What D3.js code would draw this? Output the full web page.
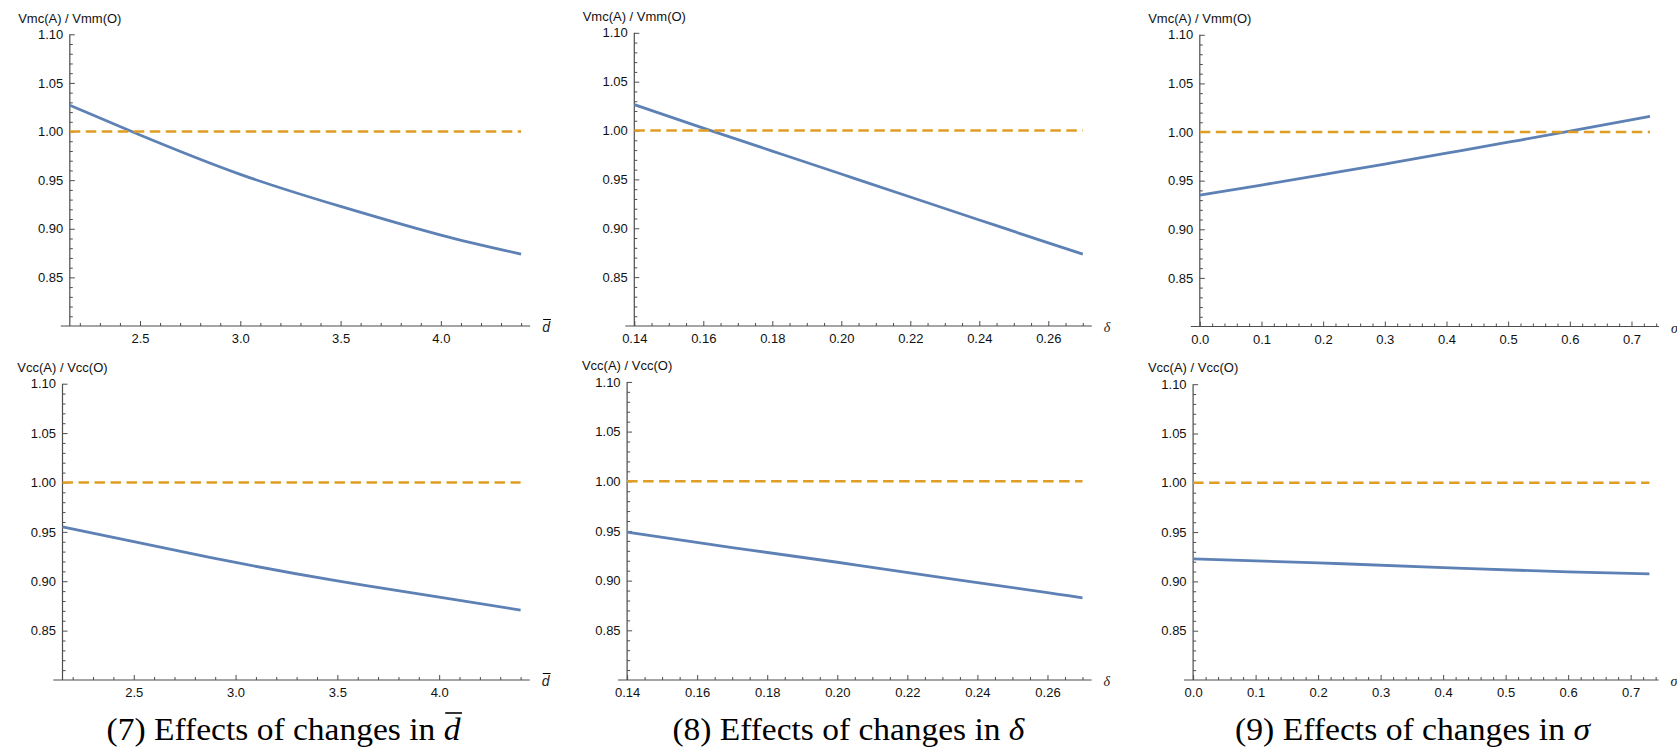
<!DOCTYPE html>
<html>
<head>
<meta charset="utf-8">
<script src="https://cdn.jsdelivr.net/npm/d3@7"></script>
<style>
  html, body { margin: 0; padding: 0; background: #fff; }
  svg { display: block; }
</style>
</head>
<body>
<div id="chart"></div>
<script>
const dbarValues = [2.15, 2.5, 3.0, 3.5, 4.0, 4.4];
const dbarVmcRatio = [1.027, 0.9965, 0.956, 0.923, 0.8935, 0.874];
const dbarVccRatio = [0.955, 0.940, 0.919, 0.9003, 0.8838, 0.8708];

const deltaValues = [0.14, 0.16, 0.18, 0.20, 0.22, 0.24, 0.26, 0.27];
const deltaVmcRatio = [1.0265, 1.0025, 0.979, 0.9555, 0.932, 0.9085, 0.885, 0.8735];
const deltaCcValues = [0.14, 0.17, 0.20, 0.23, 0.26, 0.27];
const deltaVccRatio = [0.9488, 0.9333, 0.9185, 0.9031, 0.888, 0.8826];

const sigmaValues = [0, 0.1, 0.2, 0.3, 0.4, 0.5, 0.6, 0.73];
const sigmaVmcRatio = [0.935, 0.9455, 0.9562, 0.9671, 0.9782, 0.9895, 1.001, 1.0162];
const sigmaCcValues = [0, 0.2, 0.4, 0.6, 0.73];
const sigmaVccRatio = [0.9228, 0.9188, 0.914, 0.9096, 0.9076];

const referenceLevel = 1.0;
const yDomain = [0.80, 1.10];
const yTickValues = [0.85, 0.90, 0.95, 1.00, 1.05, 1.10];
const dbarTickValues = [2.5, 3.0, 3.5, 4.0];
const deltaTickValues = [0.14, 0.16, 0.18, 0.20, 0.22, 0.24, 0.26];
const sigmaTickValues = [0.0, 0.1, 0.2, 0.3, 0.4, 0.5, 0.6, 0.7];

const yTitles = ["Vmc(A) / Vmm(O)", "Vcc(A) / Vcc(O)"];
const captionTexts = ["(7) Effects of changes in ", "(8) Effects of changes in ", "(9) Effects of changes in "];
const captionSymbols = ["d", "δ", "σ"];

const blue = "#5E81B5";
const orange = "#E19C24";
const axisColor = "#4d4d4d";
const labelColor = "#111";
const sans = "'Liberation Sans', Arial, sans-serif";
const serif = "'Liberation Serif', 'Times New Roman', serif";

const width = 1677;
const height = 748;

const svg = d3
  .select("#chart")
  .append("svg")
  .attr("width", width)
  .attr("height", height)
  .attr("viewBox", `0 0 ${width} ${height}`);

svg.append("rect").attr("width", width).attr("height", height).attr("fill", "#fff");

// Мелкие засечки по шагу внутри видимой части оси.
function minorTicks(lo, hi, step, majors) {
  const out = [];
  for (let i = Math.ceil(lo / step - 1e-9); i <= Math.floor(hi / step + 1e-9); i++) {
    const v = +(i * step).toFixed(6);
    if (!majors.some((m) => Math.abs(m - v) < step / 10)) out.push(v);
  }
  return out;
}

// Черта над символом по положению глифа.
function drawOverbar(group, textNode, charIndex, dy, shift, strokeWidth) {
  const box = textNode.getExtentOfChar(charIndex);
  group
    .append("line")
    .attr("x1", box.x + shift)
    .attr("x2", box.x + box.width + shift)
    .attr("y1", box.y + dy)
    .attr("y2", box.y + dy)
    .attr("stroke", "#000")
    .attr("stroke-width", strokeWidth);
}

function drawPanel(p) {
  const g = svg.append("g");
  const xSpan = p.xDomain[1] - p.xDomain[0];

  const xScale = d3.scaleLinear().domain(p.xDomain).range([p.x0, p.x1]);
  const yScale = d3.scaleLinear().domain(yDomain).range([p.yBot, p.yTop]);

  const axisLo = p.xDomain[0] - 0.02 * xSpan;
  const axisHi = p.xDomain[1] + 0.02 * xSpan;

  // Ось X
  const xAxisG = g.append("g").attr("transform", `translate(0,${p.yBot})`);
  xAxisG
    .append("line")
    .attr("x1", xScale(axisLo))
    .attr("x2", xScale(axisHi))
    .attr("stroke", axisColor)
    .attr("stroke-width", 1.2);

  const xMinorG = xAxisG
    .append("g")
    .call(
      d3
        .axisBottom(xScale)
        .tickValues(minorTicks(axisLo, axisHi, p.minorStep, p.xTicks))
        .tickSize(-3)
        .tickFormat("")
    );
  const xMajorG = xAxisG
    .append("g")
    .call(
      d3
        .axisBottom(xScale)
        .tickValues(p.xTicks)
        .tickSizeInner(-5)
        .tickSizeOuter(0)
        .tickPadding(8)
        .tickFormat(d3.format(p.xFormat))
    );

  // Ось Y
  const yAxisG = g.append("g").attr("transform", `translate(${p.x0},0)`);
  yAxisG
    .append("line")
    .attr("y1", p.yBot)
    .attr("y2", p.yTop)
    .attr("stroke", axisColor)
    .attr("stroke-width", 1.2);

  const yMinorG = yAxisG
    .append("g")
    .call(
      d3
        .axisLeft(yScale)
        .tickValues(minorTicks(0.805, 1.1, 0.01, yTickValues))
        .tickSize(-3)
        .tickFormat("")
    );
  const yMajorG = yAxisG
    .append("g")
    .call(
      d3
        .axisLeft(yScale)
        .tickValues(yTickValues)
        .tickSizeInner(-5)
        .tickSizeOuter(0)
        .tickPadding(6.5)
        .tickFormat(d3.format(".2f"))
    );

  [xMinorG, xMajorG, yMinorG, yMajorG].forEach((a) => {
    a.select(".domain").remove();
    a.attr("font-size", null).attr("font-family", null);
    a.selectAll(".tick line").attr("stroke", axisColor).attr("stroke-width", 1);
    a.selectAll(".tick text")
      .attr("fill", labelColor)
      .style("font-size", "13px")
      .style("font-family", sans);
  });

  // Подпись оси Y над осью
  g.append("text")
    .attr("x", p.x0)
    .attr("y", p.yTop - 11.8)
    .attr("text-anchor", "middle")
    .style("font-size", "13px")
    .style("font-family", sans)
    .attr("fill", labelColor)
    .text(p.title);

  // Обозначение переменной справа от оси X
  const symText = g
    .append("text")
    .attr("x", xScale(axisHi) + 12)
    .attr("y", p.yBot + 6)
    .style("font-size", "14px")
    .style("font-style", "italic")
    .style("font-family", p.symbol === "d" ? sans : serif)
    .attr("fill", "#222")
    .text(p.symbol);
  if (p.symbol === "d") drawOverbar(g, symText.node(), 0, 0.5, 1, 1);

  // Линии
  const line = d3
    .line()
    .x((d) => xScale(d[0]))
    .y((d) => yScale(d[1]))
    .curve(d3.curveNatural);

  g.append("path")
    .datum(d3.zip(p.xs, p.ys))
    .attr("fill", "none")
    .attr("stroke", blue)
    .attr("stroke-width", 2.8)
    .attr("d", line);

  g.append("path")
    .datum([
      [p.xDomain[0], referenceLevel],
      [p.xDomain[1], referenceLevel],
    ])
    .attr("fill", "none")
    .attr("stroke", orange)
    .attr("stroke-width", 2.4)
    .attr("stroke-dasharray", "10.5,5.5")
    .attr("d", d3.line().x((d) => xScale(d[0])).y((d) => yScale(d[1])));
}

// Положение панелей в пикселях
const panels = [
  { xDomain: [2.15, 4.4], xs: dbarValues, ys: dbarVmcRatio, xTicks: dbarTickValues, minorStep: 0.1, xFormat: ".1f", symbol: "d", title: yTitles[0], x0: 69.8, x1: 521.1, yTop: 34.3, yBot: 326 },
  { xDomain: [0.14, 0.27], xs: deltaValues, ys: deltaVmcRatio, xTicks: deltaTickValues, minorStep: 0.005, xFormat: ".2f", symbol: "δ", title: yTitles[0], x0: 634.3, x1: 1082.8, yTop: 32.8, yBot: 326 },
  { xDomain: [0, 0.73], xs: sigmaValues, ys: sigmaVmcRatio, xTicks: sigmaTickValues, minorStep: 0.02, xFormat: ".1f", symbol: "σ", title: yTitles[0], x0: 1199.8, x1: 1650, yTop: 34.8, yBot: 326.5 },
  { xDomain: [2.15, 4.4], xs: dbarValues, ys: dbarVccRatio, xTicks: dbarTickValues, minorStep: 0.1, xFormat: ".1f", symbol: "d", title: yTitles[1], x0: 62.5, x1: 520.6, yTop: 383.7, yBot: 680 },
  { xDomain: [0.14, 0.27], xs: deltaCcValues, ys: deltaVccRatio, xTicks: deltaTickValues, minorStep: 0.005, xFormat: ".2f", symbol: "δ", title: yTitles[1], x0: 627.1, x1: 1082.5, yTop: 381.9, yBot: 680 },
  { xDomain: [0, 0.73], xs: sigmaCcValues, ys: sigmaVccRatio, xTicks: sigmaTickValues, minorStep: 0.02, xFormat: ".1f", symbol: "σ", title: yTitles[1], x0: 1193.1, x1: 1649.4, yTop: 384.2, yBot: 680 },
];

panels.forEach(drawPanel);

// Подписи под колонками
const captionCenters = [283.5, 848.4, 1412.5];
const captionWidths = [354, 352, 355];
captionTexts.forEach((txt, i) => {
  const g = svg.append("g");
  const t = g
    .append("text")
    .attr("x", captionCenters[i])
    .attr("y", 740)
    .attr("text-anchor", "middle")
    .attr("textLength", captionWidths[i])
    .attr("lengthAdjust", "spacingAndGlyphs")
    .style("font-size", "31px")
    .style("font-family", serif)
    .attr("fill", "#000");
  t.append("tspan").text(txt);
  t.append("tspan").style("font-style", "italic").text(captionSymbols[i]);
  if (captionSymbols[i] === "d") drawOverbar(g, t.node(), txt.length, 1, 1.5, 1.6);
});
</script>
</body>
</html>
